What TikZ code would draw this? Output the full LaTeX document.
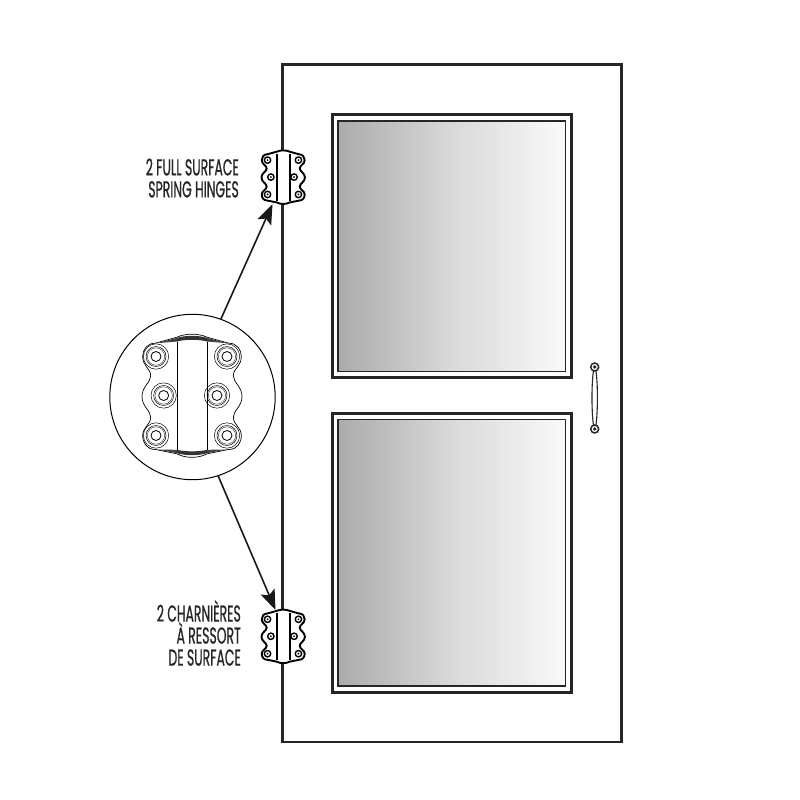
\documentclass[tikz,border=0pt]{standalone}
\usepackage{fontspec}
\usetikzlibrary{arrows.meta,calc}
\newfontfamily\labfont[FakeStretch=0.54,FakeBold=0.7]{Poppins}
\newcommand{\hingeshape}[5]{%
 % #1 cx, #2 cy, #3 scale, #4 lw, #5 1=big
 \begin{scope}[shift={(#1,#2)},x=#3pt,y=-#3pt,line width=#4pt,line join=round]
  \ifnum#5=1 \def\wa{124}\else \def\wa{114}\fi
  \draw[fill=white] (-110,-160) .. controls (-135,-160) and (-148,-140) .. (-148,-120)
    .. controls (-148,-90) and (-\wa,-85) .. (-\wa,-62)
    .. controls (-\wa,-42) and (-150,-30) .. (-150,0)
    .. controls (-150,30) and (-\wa,42) .. (-\wa,62)
    .. controls (-\wa,85) and (-148,92) .. (-148,117)
    .. controls (-148,140) and (-135,159) .. (-110,159)
    -- (-45,172) .. controls (-20,186) and (20,186) .. (45,172) -- (110,159)
    .. controls (135,159) and (148,140) .. (148,117)
    .. controls (148,92) and (\wa,85) .. (\wa,62)
    .. controls (\wa,42) and (150,30) .. (150,0)
    .. controls (150,-30) and (\wa,-42) .. (\wa,-62)
    .. controls (\wa,-85) and (148,-90) .. (148,-120)
    .. controls (148,-140) and (135,-160) .. (110,-160)
    -- (45,-178) .. controls (20,-190) and (-20,-190) .. (-45,-178) -- cycle;
  \draw (-45,-165) -- (-45,160) (45,-165) -- (45,160);
  \ifnum#5=1
   \fill[black!75] (-105,-160) -- (-45,-176) -- (-45,-165) -- cycle;
   \fill[black!75] (105,-160) -- (45,-176) -- (45,-165) -- cycle;
   \fill[black!75] (-105,159) -- (-45,170) -- (-45,160) -- cycle;
   \fill[black!75] (105,159) -- (45,170) -- (45,160) -- cycle;
   \fill[black!80] (-45,-165) -- (-45,-176) .. controls (-20,-184) and (20,-184) .. (45,-176) -- (45,-165) .. controls (20,-172) and (-20,-172) .. cycle;
   \fill[black!80] (-45,160) -- (-45,170) .. controls (-20,178) and (20,178) .. (45,170) -- (45,160) .. controls (20,166) and (-20,166) .. cycle;
  \fi
  \foreach \hx/\hy in {-108/-120,105/-120,-85/-3,75/-3,-108/117,105/117}{
   \ifnum#5=1
    \draw[line width=.5pt] (\hx,\hy) circle[radius=38] (\hx,\hy) circle[radius=30];
    \draw[line width=.3pt] (\hx,\hy) circle[radius=26];
    \draw[line width=.8pt] (\hx,\hy) circle[radius=15];
   \else
    \draw[line width=1.4pt] (\hx,\hy) circle[radius=22];
    \fill (\hx,\hy) circle[radius=7];
   \fi}
 \end{scope}}
\tikzset{
 doorline/.style={draw=black!85,line width=2.6pt,outer sep=0pt,inner sep=0pt},
 glassbox/.style={draw=black!85,line width=1.1pt,left color=black!33,right color=black!2,middle color=black!15,shading angle=90},
 labeltext/.style={font=\labfont\fontsize{23}{22}\selectfont,align=right,anchor=east,inner sep=0pt,text=black!85},
 callout/.style={line width=1.6pt,draw=black!90,-{Stealth[length=20pt,width=15pt,inset=4pt]}},
 handleend/.style={circle,draw=black!85,line width=1.5pt,minimum size=8pt,inner sep=0pt,outer sep=0pt},
}
\begin{document}
\begin{tikzpicture}[x=1pt,y=-1pt]
\useasboundingbox (0,0) rectangle (800,800);
\fill[white] (0,0) rectangle (800,800);
\node[doorline,minimum width=338.5pt,minimum height=677.5pt,anchor=north west] (door) at (282.7,64.5) {};
% panes
\node[doorline,minimum width=239pt,minimum height=263pt,anchor=north west] (upper) at (332.7,114.3) {};
\node[doorline,minimum width=239pt,minimum height=279pt,anchor=north west] (lower) at (332.7,413.3) {};
\shade[glassbox] (338,121) rectangle (565.7,371.7);
\shade[glassbox] (338,419.3) rectangle (565.7,686);
% handle
\node[handleend] (htop) at (594.7,367) {};
\node[handleend] (hbot) at (594.7,429) {};
\fill[black!85] (htop) circle[radius=1.8] (hbot) circle[radius=1.8];
\draw[black!85,line width=1.1pt] ($(htop.south)+(-1.3,0)$) .. controls (591.5,385) and (591.5,410) .. ($(hbot.north)+(-1.3,0)$);
\draw[black!85,line width=1.1pt] ($(htop.south)+(1.3,0)$) .. controls (597.9,385) and (597.9,410) .. ($(hbot.north)+(1.3,0)$);
% small hinges
\hingeshape{283.2}{177.5}{.145}{1.9}{0}
\hingeshape{283.2}{636.7}{.145}{1.9}{0}
\coordinate (h1) at (272.5,204);
\coordinate (h2) at (275.5,610);
% callout
\node[circle,draw=black,line width=1pt,fill=white,minimum size=165.4pt,inner sep=0pt,outer sep=0pt] (zoom) at (192.5,397) {};
\hingeshape{192}{396.5}{.3333}{.7}{1}
\draw[callout] (zoom.70) -- (h1);
\draw[callout] (zoom.-72) -- (h2);
% labels
\node[labeltext] (lab1) at (239,178) {2 FULL SURFACE\\SPRING HINGES};
\node[labeltext] (lab2) at (241,633) {2 CHARNIÈRES\\À RESSORT\\DE SURFACE};
\end{tikzpicture}
\end{document}
